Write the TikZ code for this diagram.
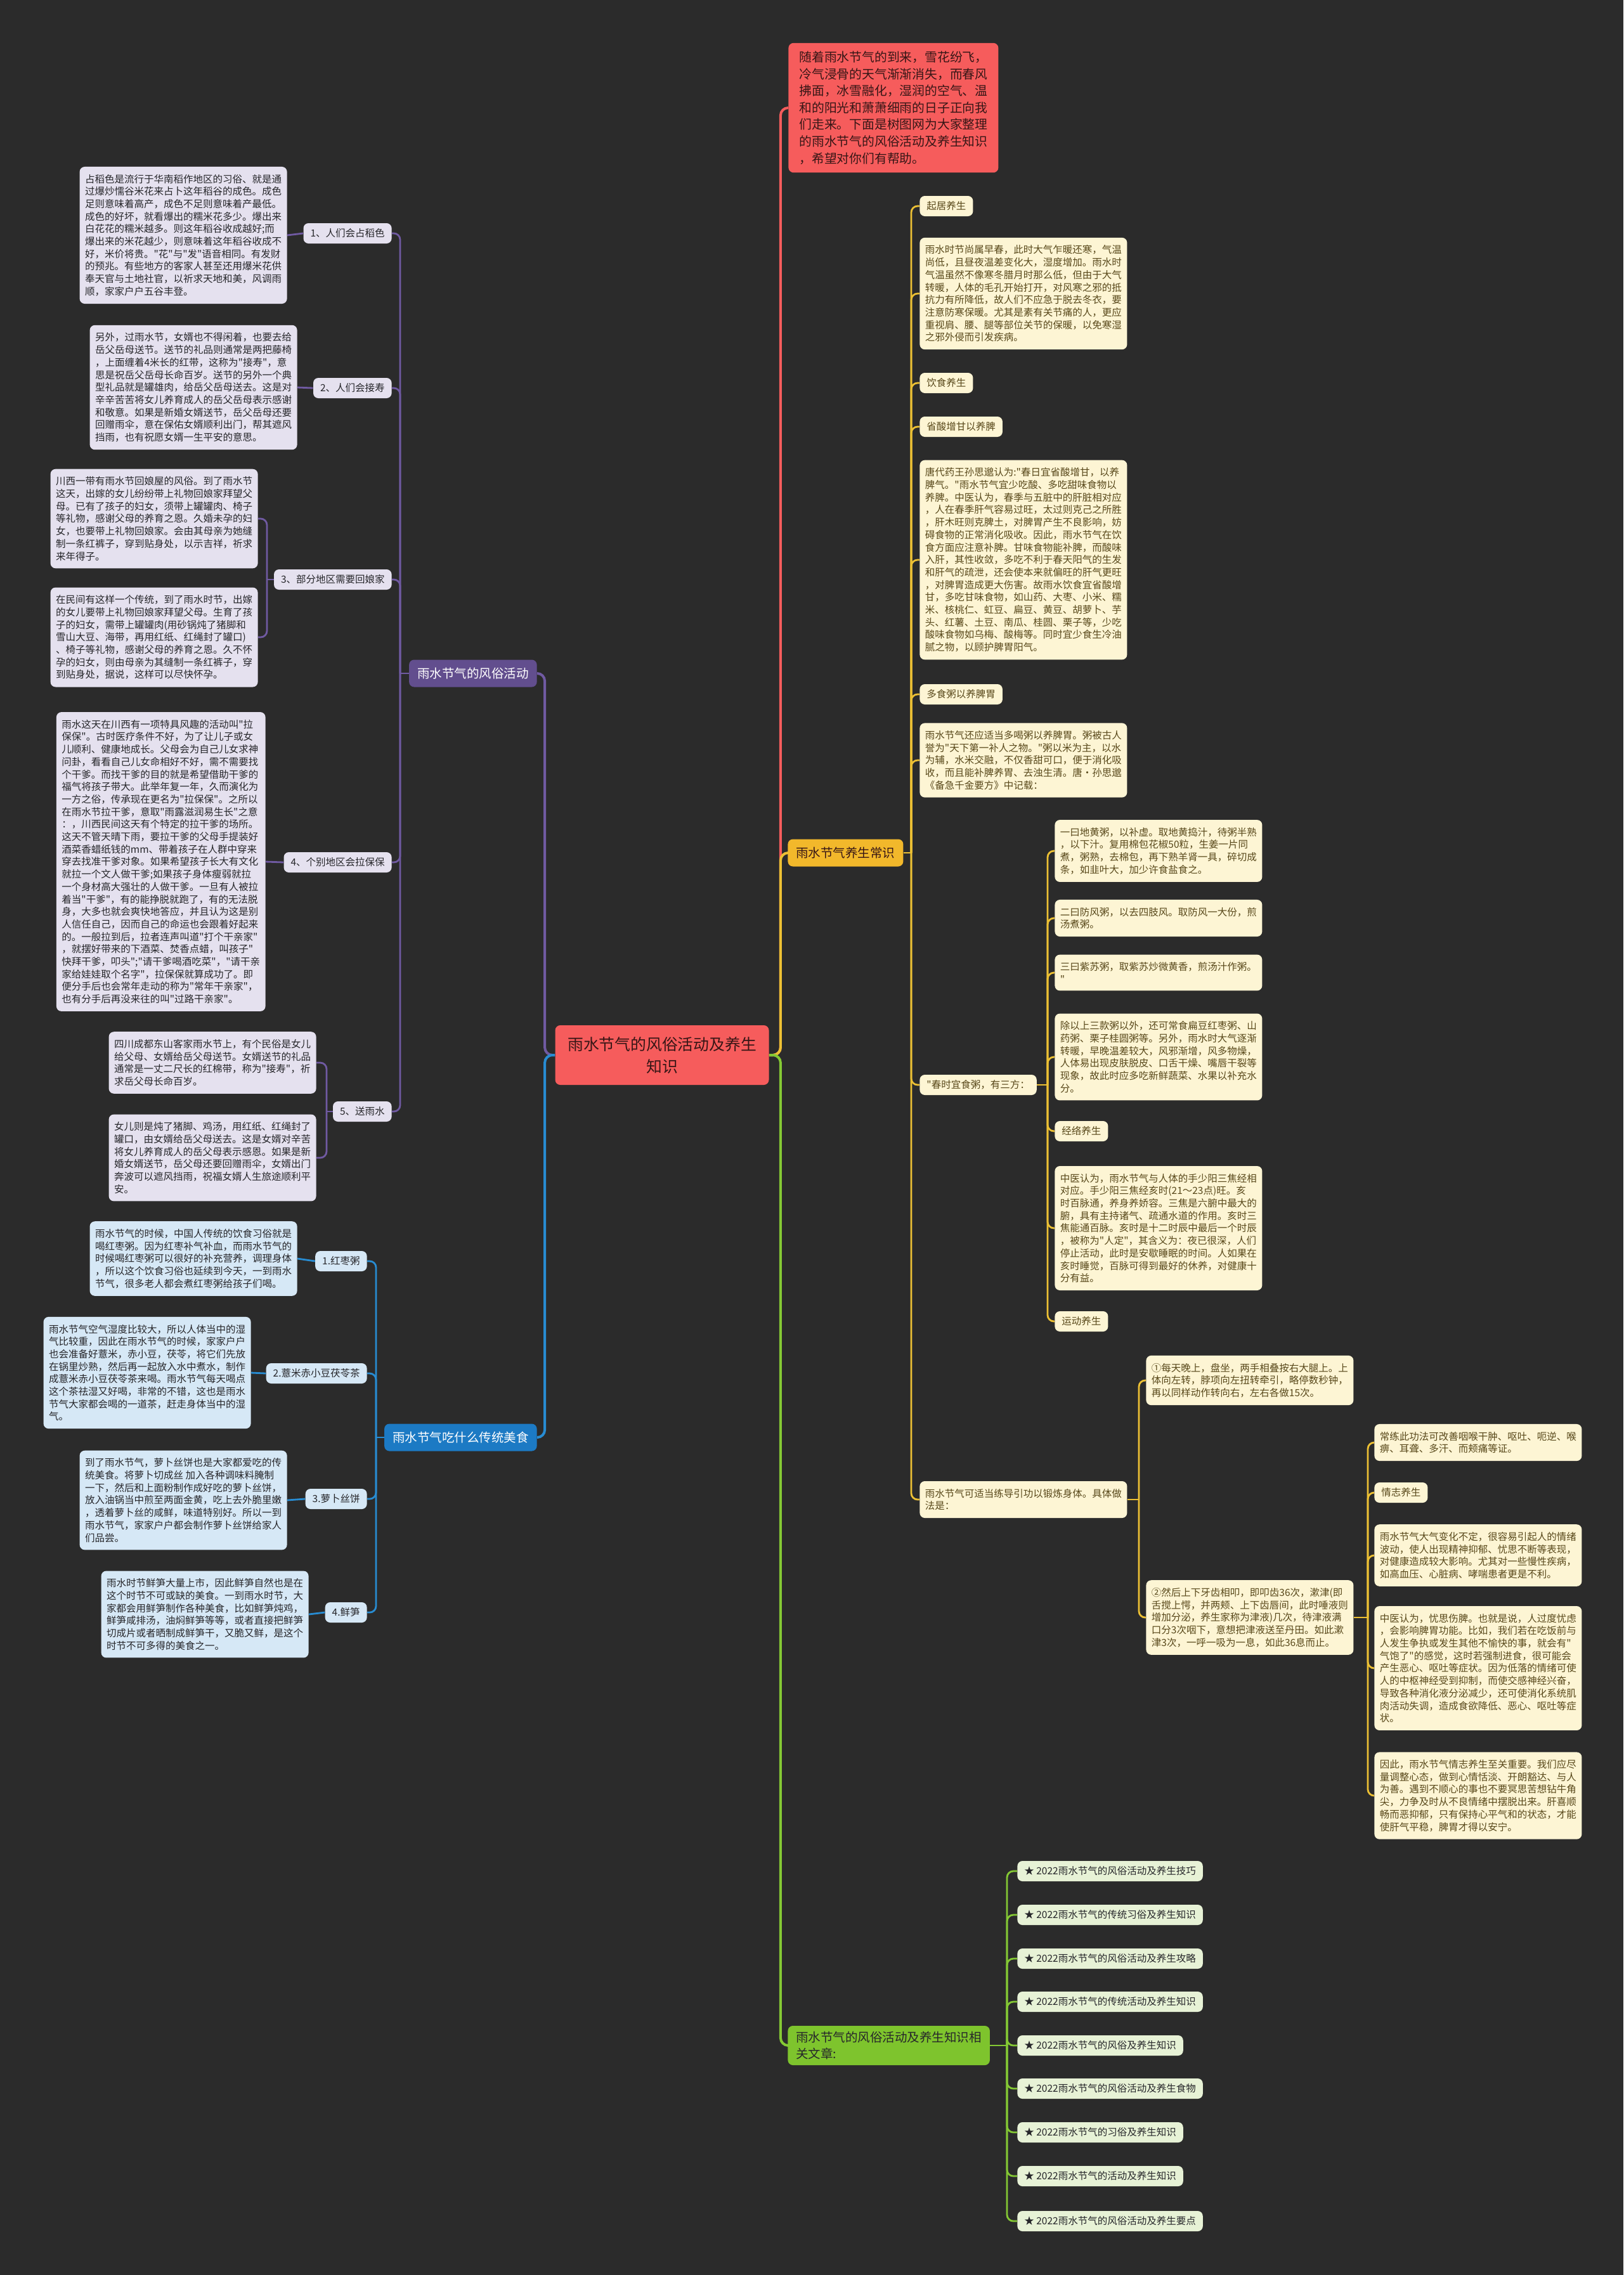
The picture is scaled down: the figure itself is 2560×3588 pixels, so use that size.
\documentclass[tikz,border=0pt]{standalone}
\usepackage{fontspec}
\usepackage{tikz}
\newfontfamily\zhfont{Noto Sans CJK SC}
\definecolor{bgdark}{RGB}{43,43,43}
\definecolor{rootred}{RGB}{246,92,92}
\definecolor{roottext}{RGB}{55,22,22}
\definecolor{purplenode}{RGB}{98,78,142}
\definecolor{purpleline}{RGB}{112,90,162}
\definecolor{lavender}{RGB}{229,225,239}
\definecolor{bluenode}{RGB}{28,122,196}
\definecolor{blueline}{RGB}{40,140,210}
\definecolor{paleblue}{RGB}{214,232,246}
\definecolor{yellownode}{RGB}{242,184,43}
\definecolor{yellowline}{RGB}{236,192,52}
\definecolor{cream}{RGB}{253,245,212}
\definecolor{creamtext}{RGB}{88,72,26}
\definecolor{greennode}{RGB}{126,196,45}
\definecolor{greenline}{RGB}{132,200,52}
\definecolor{palegreen}{RGB}{231,242,214}
\definecolor{darktext}{RGB}{38,38,42}
\tikzset{
  base/.style={font=\zhfont\fontsize{7.75}{9.85}\selectfont, align=left, inner xsep=4.25pt, inner ysep=6pt, rounded corners=4pt, text=darktext},
  lbl/.style={inner xsep=5.5pt, inner ysep=4pt, minimum height=16pt},
  leafp/.style={base, fill=lavender},
  leafb/.style={base, fill=paleblue},
  leafy/.style={base, fill=cream, text=creamtext},
  leafg/.style={base, lbl, fill=palegreen, anchor=west},
  branch/.style={font=\zhfont\fontsize{9.75}{13}\selectfont, align=left, inner xsep=6.5pt, inner ysep=4.5pt, minimum height=21.5pt, rounded corners=4pt},
  root/.style={font=\zhfont\fontsize{12.4}{17.5}\selectfont, align=center, fill=rootred, text=roottext, minimum width=168.5pt, minimum height=47pt, rounded corners=4pt},
  intro/.style={font=\zhfont\fontsize{9.9}{13.3}\selectfont, align=left, fill=rootred, text=roottext, inner xsep=8.5pt, inner ysep=6.5pt, rounded corners=4pt},
  link/.style={line width=1.4pt, rounded corners=5pt},
  mainlink/.style={line width=2pt, rounded corners=6pt},
}
\begin{document}
\begin{tikzpicture}[x=0.5pt,y=-0.5pt]
  \fill[bgdark] (0,0) rectangle (2560,3588);
  % root and intro
  \node[root] (root) at (1044,1664) {雨水节气的风俗活动及养生\\知识};
  \node[intro,anchor=west] (intro) at (1243,170) {随着雨水节气的到来，雪花纷飞，\\冷气浸骨的天气渐渐消失，而春风\\拂面，冰雪融化，湿润的空气、温\\和的阳光和萧萧细雨的日子正向我\\们走来。下面是树图网为大家整理\\的雨水节气的风俗活动及养生知识\\，希望对你们有帮助。};
  % branches
  \node[branch,fill=purplenode,text=white,anchor=east] (fs) at (847,1062) {雨水节气的风俗活动};
  \node[branch,fill=bluenode,text=white,anchor=east] (fd) at (847,2267) {雨水节气吃什么传统美食};
  \node[branch,fill=yellownode,text=roottext,anchor=west] (ys) at (1242,1345) {雨水节气养生常识};
  \node[branch,fill=greennode,text=darktext,anchor=west] (gr) at (1242,3226) {雨水节气的风俗活动及养生知识相\\关文章:};

  % customs
  \node[leafp,lbl,anchor=east] (fs1) at (618,368) {1、人们会占稻色};
  \node[leafp,lbl,anchor=east] (fs2) at (618,612) {2、人们会接寿};
  \node[leafp,lbl,anchor=east] (fs3) at (618,914) {3、部分地区需要回娘家};
  \node[leafp,lbl,anchor=east] (fs4) at (618,1360) {4、个别地区会拉保保};
  \node[leafp,lbl,anchor=east] (fs5) at (618,1753) {5、送雨水};
  \node[leafp,anchor=east] (fs1a) at (453,371) {占稻色是流行于华南稻作地区的习俗、就是通\\过爆炒懦谷米花来占卜这年稻谷的成色。成色\\足则意味着高产，成色不足则意味着产最低。\\成色的好坏，就看爆出的糯米花多少。爆出来\\白花花的糯米越多。则这年稻谷收成越好;而\\爆出来的米花越少，则意味着这年稻谷收成不\\好，米价将贵。"花"与"发"语音相同。有发财\\的预兆。有些地方的客家人甚至还用爆米花供\\奉天官与土地社官，以祈求天地和美，风调雨\\顺，家家户户五谷丰登。};
  \node[leafp,anchor=east] (fs2a) at (469,611) {另外，过雨水节，女婿也不得闲着，也要去给\\岳父岳母送节。送节的礼品则通常是两把藤椅\\，上面缠着4米长的红带，这称为"接寿"，意\\思是祝岳父岳母长命百岁。送节的另外一个典\\型礼品就是罐雄肉，给岳父岳母送去。这是对\\辛辛苦苦将女儿养育成人的岳父岳母表示感谢\\和敬意。如果是新婚女婿送节，岳父岳母还要\\回赠雨伞，意在保佑女婿顺利出门，帮其遮风\\挡雨，也有祝愿女婿一生平安的意思。};
  \node[leafp,anchor=east] (fs3a) at (407,818) {川西一带有雨水节回娘屋的风俗。到了雨水节\\这天，出嫁的女儿纷纷带上礼物回娘家拜望父\\母。已有了孩子的妇女，须带上罐罐肉、椅子\\等礼物，感谢父母的养育之恩。久婚未孕的妇\\女，也要带上礼物回娘家。会由其母亲为她缝\\制一条红裤子，穿到贴身处，以示吉祥，祈求\\来年得子。};
  \node[leafp,anchor=east] (fs3b) at (407,1005) {在民间有这样一个传统，到了雨水时节，出嫁\\的女儿要带上礼物回娘家拜望父母。生育了孩\\子的妇女，需带上罐罐肉(用砂锅炖了猪脚和\\雪山大豆、海带，再用红纸、红绳封了罐口)\\、椅子等礼物，感谢父母的养育之恩。久不怀\\孕的妇女，则由母亲为其缝制一条红裤子，穿\\到贴身处，据说，这样可以尽快怀孕。};
  \node[leafp,anchor=east] (fs4a) at (419,1359) {雨水这天在川西有一项特具风趣的活动叫"拉\\保保"。古时医疗条件不好，为了让儿子或女\\儿顺利、健康地成长。父母会为自己儿女求神\\问卦，看看自己儿女命相好不好，需不需要找\\个干爹。而找干爹的目的就是希望借助干爹的\\福气将孩子带大。此举年复一年，久而演化为\\一方之俗，传承现在更名为"拉保保"。之所以\\在雨水节拉干爹，意取"雨露滋润易生长"之意\\：，川西民间这天有个特定的拉干爹的场所。\\这天不管天晴下雨，要拉干爹的父母手提装好\\酒菜香蜡纸钱的mm、带着孩子在人群中穿来\\穿去找准干爹对象。如果希望孩子长大有文化\\就拉一个文人做干爹;如果孩子身体瘦弱就拉\\一个身材高大强壮的人做干爹。一旦有人被拉\\着当"干爹"，有的能挣脱就跑了，有的无法脱\\身，大多也就会爽快地答应，并且认为这是别\\人信任自己，因而自己的命运也会跟着好起来\\的。一般拉到后，拉者连声叫道"打个干亲家"\\，就摆好带来的下酒菜、焚香点蜡，叫孩子"\\快拜干爹，叩头";"请干爹喝酒吃菜"，"请干亲\\家给娃娃取个名字"，拉保保就算成功了。即\\便分手后也会常年走动的称为"常年干亲家"，\\也有分手后再没来往的叫"过路干亲家"。};
  \node[leafp,anchor=east] (fs5a) at (499,1676) {四川成都东山客家雨水节上，有个民俗是女儿\\给父母、女婿给岳父母送节。女婿送节的礼品\\通常是一丈二尺长的红棉带，称为"接寿"，祈\\求岳父母长命百岁。};
  \node[leafp,anchor=east] (fs5b) at (499,1826) {女儿则是炖了猪脚、鸡汤，用红纸、红绳封了\\罐口，由女婿给岳父母送去。这是女婿对辛苦\\将女儿养育成人的岳父母表示感恩。如果是新\\婚女婿送节，岳父母还要回赠雨伞，女婿出门\\奔波可以遮风挡雨，祝福女婿人生旅途顺利平\\安。};

  % food
  \node[leafb,lbl,anchor=east] (fd1) at (579,1989) {1.红枣粥};
  \node[leafb,lbl,anchor=east] (fd2) at (579,2166) {2.薏米赤小豆茯苓茶};
  \node[leafb,lbl,anchor=east] (fd3) at (579,2364) {3.萝卜丝饼};
  \node[leafb,lbl,anchor=east] (fd4) at (579,2543) {4.鲜笋};
  \node[leafb,anchor=east] (fd1a) at (469,1985) {雨水节气的时候，中国人传统的饮食习俗就是\\喝红枣粥。因为红枣补气补血，而雨水节气的\\时候喝红枣粥可以很好的补充营养，调理身体\\，所以这个饮食习俗也延续到今天，一到雨水\\节气，很多老人都会煮红枣粥给孩子们喝。};
  \node[leafb,anchor=east] (fd2a) at (396,2165) {雨水节气空气湿度比较大，所以人体当中的湿\\气比较重，因此在雨水节气的时候，家家户户\\也会准备好薏米，赤小豆，茯苓，将它们先放\\在锅里炒熟，然后再一起放入水中煮水，制作\\成薏米赤小豆茯苓茶来喝。雨水节气每天喝点\\这个茶祛湿又好喝，非常的不错，这也是雨水\\节气大家都会喝的一道茶，赶走身体当中的湿\\气。};
  \node[leafb,anchor=east] (fd3a) at (453,2366) {到了雨水节气，萝卜丝饼也是大家都爱吃的传\\统美食。将萝卜切成丝 加入各种调味料腌制\\一下，然后和上面粉制作成好吃的萝卜丝饼，\\放入油锅当中煎至两面金黄，吃上去外脆里嫩\\，透着萝卜丝的咸鲜，味道特别好。所以一到\\雨水节气，家家户户都会制作萝卜丝饼给家人\\们品尝。};
  \node[leafb,anchor=east] (fd4a) at (487,2546) {雨水时节鲜笋大量上市，因此鲜笋自然也是在\\这个时节不可或缺的美食。一到雨水时节，大\\家都会用鲜笋制作各种美食，比如鲜笋炖鸡，\\鲜笋咸排汤，油焖鲜笋等等，或者直接把鲜笋\\切成片或者晒制成鲜笋干，又脆又鲜，是这个\\时节不可多得的美食之一。};

  % health
  \node[leafy,lbl,anchor=west] (ys1) at (1450,325) {起居养生};
  \node[leafy,anchor=west] (ys1a) at (1450,463) {雨水时节尚属早春，此时大气乍暖还寒，气温\\尚低，且昼夜温差变化大，湿度增加。雨水时\\气温虽然不像寒冬腊月时那么低，但由于大气\\转暖，人体的毛孔开始打开，对风寒之邪的抵\\抗力有所降低，故人们不应急于脱去冬衣，要\\注意防寒保暖。尤其是素有关节痛的人，更应\\重视肩、腰、腿等部位关节的保暖，以免寒湿\\之邪外侵而引发疾病。};
  \node[leafy,lbl,anchor=west] (ys2) at (1450,604) {饮食养生};
  \node[leafy,lbl,anchor=west] (ys3) at (1450,673) {省酸增甘以养脾};
  \node[leafy,anchor=west] (ys3a) at (1450,883) {唐代药王孙思邈认为:"春日宜省酸增甘，以养\\脾气。"雨水节气宜少吃酸、多吃甜味食物以\\养脾。中医认为，春季与五脏中的肝脏相对应\\，人在春季肝气容易过旺，太过则克己之所胜\\，肝木旺则克脾土，对脾胃产生不良影响，妨\\碍食物的正常消化吸收。因此，雨水节气在饮\\食方面应注意补脾。甘味食物能补脾，而酸味\\入肝，其性收敛，多吃不利于春天阳气的生发\\和肝气的疏泄，还会使本来就偏旺的肝气更旺\\，对脾胃造成更大伤害。故雨水饮食宜省酸增\\甘，多吃甘味食物，如山药、大枣、小米、糯\\米、核桃仁、虹豆、扁豆、黄豆、胡萝卜、芋\\头、红薯、土豆、南瓜、桂圆、栗子等，少吃\\酸味食物如乌梅、酸梅等。同时宜少食生冷油\\腻之物，以顾护脾胃阳气。};
  \node[leafy,lbl,anchor=west] (ys4) at (1450,1095) {多食粥以养脾胃};
  \node[leafy,anchor=west] (ys4a) at (1450,1199) {雨水节气还应适当多喝粥以养脾胃。粥被古人\\誉为"天下第一补人之物。"粥以米为主，以水\\为辅，水米交融，不仅香甜可口，便于消化吸\\收，而且能补脾养胃、去浊生清。唐·孙思邈\\《备急千金要方》中记载：};
  \node[leafy,lbl,anchor=west] (ys5) at (1450,1711) {"春时宜食粥，有三方：};
  \node[leafy,anchor=west] (ys6) at (1450,2365) {雨水节气可适当练导引功以锻炼身体。具体做\\法是：};
  % three recipes
  \node[leafy,anchor=west] (ys5a) at (1663,1342) {一曰地黄粥，以补虚。取地黄捣汁，待粥半熟\\，以下汁。复用棉包花椒50粒，生姜一片同\\煮，粥熟，去棉包，再下熟羊肾一具，碎切成\\条，如韭叶大，加少许食盐食之。};
  \node[leafy,anchor=west] (ys5b) at (1663,1448) {二曰防风粥，以去四肢风。取防风一大份，煎\\汤煮粥。};
  \node[leafy,anchor=west] (ys5c) at (1663,1534) {三曰紫苏粥，取紫苏炒微黄香，煎汤汁作粥。\\"};
  \node[leafy,anchor=west] (ys5d) at (1663,1667) {除以上三款粥以外，还可常食扁豆红枣粥、山\\药粥、栗子桂圆粥等。另外，雨水时大气逐渐\\转暖，早晚温差较大，风邪渐增，风多物燥，\\人体易出现皮肤脱皮、口舌干燥、嘴唇干裂等\\现象，故此时应多吃新鲜蔬菜、水果以补充水\\分。};
  \node[leafy,lbl,anchor=west] (ys5e) at (1663,1784) {经络养生};
  \node[leafy,anchor=west] (ys5f) at (1663,1937) {中医认为，雨水节气与人体的手少阳三焦经相\\对应。手少阳三焦经亥时(21～23点)旺。亥\\时百脉通，养身养娇容。三焦是六腑中最大的\\腑，具有主持诸气、疏通水道的作用。亥时三\\焦能通百脉。亥时是十二时辰中最后一个时辰\\，被称为"人定"，其含义为：夜已很深，人们\\停止活动，此时是安歇睡眠的时间。人如果在\\亥时睡觉，百脉可得到最好的休养，对健康十\\分有益。};
  \node[leafy,lbl,anchor=west] (ys5g) at (1663,2084) {运动养生};
  % exercise
  \node[leafy,anchor=west] (ys6a) at (1807,2177) {①每天晚上，盘坐，两手相叠按右大腿上。上\\体向左转，脖项向左扭转牵引，略停数秒钟，\\再以同样动作转向右，左右各做15次。};
  \node[leafy,anchor=west] (ys6b) at (1807,2551) {②然后上下牙齿相叩，即叩齿36次，漱津(即\\舌搅上愕，并两颊、上下齿唇间，此时唾液则\\增加分泌，养生家称为津液)几次，待津液满\\口分3次咽下，意想把津液送至丹田。如此漱\\津3次，一呼一吸为一息，如此36息而止。};
  \node[leafy,anchor=west] (ys7a) at (2167,2275) {常练此功法可改善咽喉干肿、呕吐、呃逆、喉\\痹、耳聋、多汗、而颊痛等证。};
  \node[leafy,lbl,anchor=west] (ys7b) at (2167,2354) {情志养生};
  \node[leafy,anchor=west] (ys7c) at (2167,2453) {雨水节气大气变化不定，很容易引起人的情绪\\波动，使人出现精神抑郁、忧思不断等表现，\\对健康造成较大影响。尤其对一些慢性疾病，\\如高血压、心脏病、哮喘患者更是不利。};
  \node[leafy,anchor=west] (ys7d) at (2167,2631) {中医认为，忧思伤脾。也就是说，人过度忧虑\\，会影响脾胃功能。比如，我们若在吃饭前与\\人发生争执或发生其他不愉快的事，就会有"\\气饱了"的感觉，这时若强制进食，很可能会\\产生恶心、呕吐等症状。因为低落的情绪可使\\人的中枢神经受到抑制，而使交感神经兴奋，\\导致各种消化液分泌减少，还可使消化系统肌\\肉活动失调，造成食欲降低、恶心、呕吐等症\\状。};
  \node[leafy,anchor=west] (ys7e) at (2167,2832) {因此，雨水节气情志养生至关重要。我们应尽\\量调整心态，做到心情恬淡、开朗豁达、与人\\为善。遇到不顺心的事也不要冥思苦想钻牛角\\尖，力争及时从不良情绪中摆脱出来。肝喜顺\\畅而恶抑郁，只有保持心平气和的状态，才能\\使肝气平稳，脾胃才得以安宁。};

  % related articles
  \node[leafg] (gr1) at (1604,2951) {★ 2022雨水节气的风俗活动及养生技巧};
  \node[leafg] (gr2) at (1604,3020) {★ 2022雨水节气的传统习俗及养生知识};
  \node[leafg] (gr3) at (1604,3089) {★ 2022雨水节气的风俗活动及养生攻略};
  \node[leafg] (gr4) at (1604,3157) {★ 2022雨水节气的传统活动及养生知识};
  \node[leafg] (gr5) at (1604,3226) {★ 2022雨水节气的风俗及养生知识};
  \node[leafg] (gr6) at (1604,3294) {★ 2022雨水节气的风俗活动及养生食物};
  \node[leafg] (gr7) at (1604,3363) {★ 2022雨水节气的习俗及养生知识};
  \node[leafg] (gr8) at (1604,3432) {★ 2022雨水节气的活动及养生知识};
  \node[leafg] (gr9) at (1604,3503) {★ 2022雨水节气的风俗活动及养生要点};

  % connectors from root
  \draw[mainlink,rootred] (root.east) -- ++(18,0) |- (intro.west);
  \draw[mainlink,yellowline] (root.east) -- ++(18,0) |- (ys.west);
  \draw[mainlink,greenline] (root.east) -- ++(18,0) |- (gr.west);
  \draw[mainlink,purpleline] (root.west) -- ++(-16,0) |- (fs.east);
  \draw[mainlink,blueline] (root.west) -- ++(-16,0) |- (fd.east);

  % customs connectors
  \coordinate (fsj) at (631,1062);
  \draw[link,purpleline] (fs.west) -- (fsj);
  \foreach \n in {fs1,fs2,fs3,fs4,fs5} \draw[link,purpleline] (fsj) |- (\n.east);
  \draw[link,purpleline] (fs1.west) -- (fs1a.east);
  \draw[link,purpleline] (fs2.west) -- (fs2a.east);
  \draw[link,purpleline] (fs4.west) -- (fs4a.east);
  \coordinate (fs3j) at (421,914);
  \draw[link,purpleline] (fs3.west) -- (fs3j);
  \draw[link,purpleline] (fs3j) |- (fs3a.east);
  \draw[link,purpleline] (fs3j) |- (fs3b.east);
  \coordinate (fs5j) at (515,1753);
  \draw[link,purpleline] (fs5.west) -- (fs5j);
  \draw[link,purpleline] (fs5j) |- (fs5a.east);
  \draw[link,purpleline] (fs5j) |- (fs5b.east);

  % food connectors
  \coordinate (fdj) at (593,2267);
  \draw[link,blueline] (fd.west) -- (fdj);
  \foreach \n in {fd1,fd2,fd3,fd4} {
    \draw[link,blueline] (fdj) |- (\n.east);
    \draw[link,blueline] (\n.west) -- (\n a.east);
  }

  % health connectors
  \coordinate (ysj) at (1437,1345);
  \draw[link,yellowline] (ys.east) -- (ysj);
  \foreach \n in {ys1,ys1a,ys2,ys3,ys3a,ys4,ys4a,ys5,ys6} \draw[link,yellowline] (ysj) |- (\n.west);
  \coordinate (ys5j) at (1652,1711);
  \draw[link,yellowline] (ys5.east) -- (ys5j);
  \foreach \n in {ys5a,ys5b,ys5c,ys5d,ys5e,ys5f,ys5g} \draw[link,yellowline] (ys5j) |- (\n.west);
  \coordinate (ys6j) at (1796,2365);
  \draw[link,yellowline] (ys6.east) -- (ys6j);
  \draw[link,yellowline] (ys6j) |- (ys6a.west);
  \draw[link,yellowline] (ys6j) |- (ys6b.west);
  \coordinate (ys7j) at (2157,2551);
  \draw[link,yellowline] (ys6b.east) -- (ys7j);
  \foreach \n in {ys7a,ys7b,ys7c,ys7d,ys7e} \draw[link,yellowline] (ys7j) |- (\n.west);

  % article connectors
  \coordinate (grj) at (1588,3226);
  \draw[link,greenline] (gr.east) -- (grj);
  \foreach \n in {gr1,gr2,gr3,gr4,gr5,gr6,gr7,gr8,gr9} \draw[link,greenline] (grj) |- (\n.west);
\end{tikzpicture}
\end{document}
